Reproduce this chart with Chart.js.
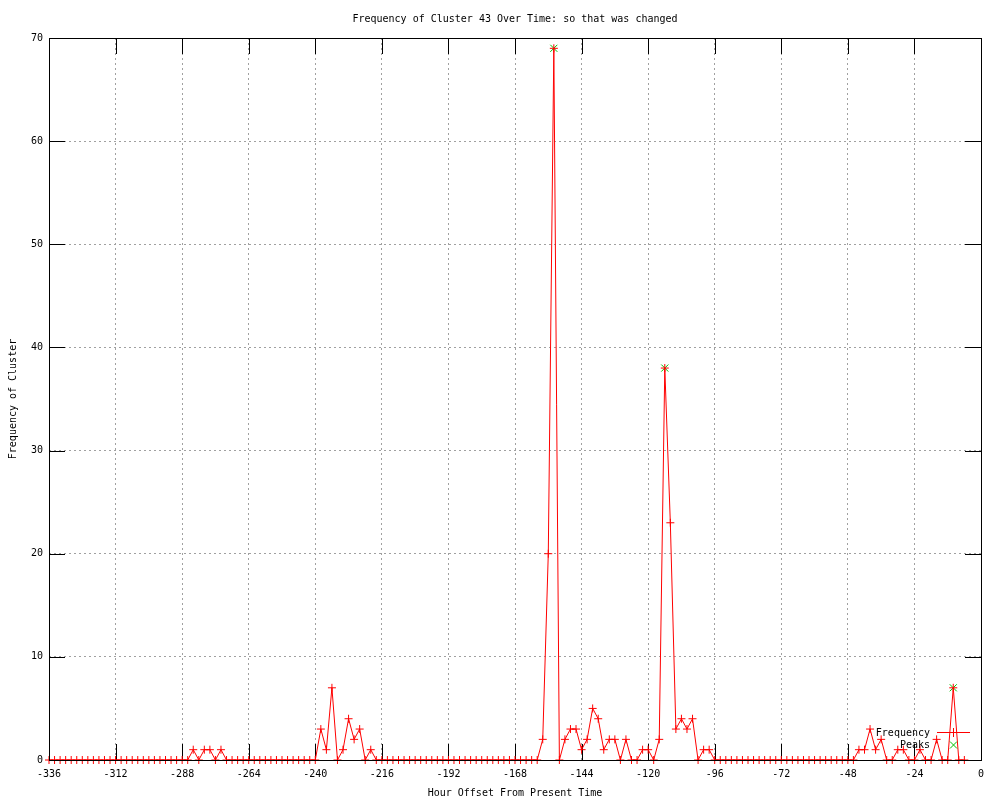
<!DOCTYPE html>
<html>
<head>
<meta charset="utf-8">
<title>Frequency of Cluster 43 Over Time</title>
<script src="https://cdn.jsdelivr.net/npm/chart.js@4/dist/chart.umd.min.js"></script>
<style>
  html, body { margin: 0; padding: 0; background: #fff; }
  #wrap { width: 1000px; height: 800px; }
</style>
</head>
<body>
<div id="wrap"><canvas id="chart" width="1000" height="800"></canvas></div>
<script>
const chartTitle = 'Frequency of Cluster 43 Over Time: so that was changed';
const xTitle = 'Hour Offset From Present Time';
const yTitle = 'Frequency of Cluster';

// hour offsets of each sample (every 2 hours)
const hours = [
  -336, -334, -332, -330, -328, -326, -324, -322, -320, -318, -316, -314, -312, -310, -308, -306,
  -304, -302, -300, -298, -296, -294, -292, -290, -288, -286, -284, -282, -280, -278, -276, -274,
  -272, -270, -268, -266, -264, -262, -260, -258, -256, -254, -252, -250, -248, -246, -244, -242,
  -240, -238, -236, -234, -232, -230, -228, -226, -224, -222, -220, -218, -216, -214, -212, -210,
  -208, -206, -204, -202, -200, -198, -196, -194, -192, -190, -188, -186, -184, -182, -180, -178,
  -176, -174, -172, -170, -168, -166, -164, -162, -160, -158, -156, -154, -152, -150, -148, -146,
  -144, -142, -140, -138, -136, -134, -132, -130, -128, -126, -124, -122, -120, -118, -116, -114,
  -112, -110, -108, -106, -104, -102, -100, -98, -96, -94, -92, -90, -88, -86, -84, -82,
  -80, -78, -76, -74, -72, -70, -68, -66, -64, -62, -60, -58, -56, -54, -52, -50,
  -48, -46, -44, -42, -40, -38, -36, -34, -32, -30, -28, -26, -24, -22, -20, -18,
  -16, -14, -12, -10, -8, -6
];

const frequency = [
  0, 0, 0, 0, 0, 0, 0, 0, 0, 0, 0, 0, 0, 0, 0, 0,
  0, 0, 0, 0, 0, 0, 0, 0, 0, 0, 1, 0, 1, 1, 0, 1,
  0, 0, 0, 0, 0, 0, 0, 0, 0, 0, 0, 0, 0, 0, 0, 0,
  0, 3, 1, 7, 0, 1, 4, 2, 3, 0, 1, 0, 0, 0, 0, 0,
  0, 0, 0, 0, 0, 0, 0, 0, 0, 0, 0, 0, 0, 0, 0, 0,
  0, 0, 0, 0, 0, 0, 0, 0, 0, 2, 20, 69, 0, 2, 3, 3,
  1, 2, 5, 4, 1, 2, 2, 0, 2, 0, 0, 1, 1, 0, 2, 38,
  23, 3, 4, 3, 4, 0, 1, 1, 0, 0, 0, 0, 0, 0, 0, 0,
  0, 0, 0, 0, 0, 0, 0, 0, 0, 0, 0, 0, 0, 0, 0, 0,
  0, 0, 1, 1, 3, 1, 2, 0, 0, 1, 1, 0, 0, 1, 0, 0,
  2, 0, 0, 7, 0, 0
];

const peakHours = [-154, -114, -10];
const peakValues = [69, 38, 7];

const FONT = '10px "DejaVu Sans Mono", "Liberation Mono", monospace';
const RED = '#ff0000';
const GREEN = '#00c000';

// gnuplot-like frame: inward ticks on all four sides, border on top of the data
const framePlugin = {
  id: 'frame',
  beforeDatasetsDraw(chart) {
    const { ctx, chartArea: a, scales } = chart;
    const len = 16;
    ctx.save();
    ctx.strokeStyle = '#000';
    ctx.lineWidth = 1;
    ctx.beginPath();
    scales.x.ticks.forEach(t => {
      const px = Math.round(scales.x.getPixelForValue(t.value)) + 0.5;
      ctx.moveTo(px, a.bottom); ctx.lineTo(px, a.bottom - len);
      ctx.moveTo(px, a.top); ctx.lineTo(px, a.top + len);
    });
    scales.y.ticks.forEach(t => {
      const py = Math.round(scales.y.getPixelForValue(t.value)) + 0.5;
      ctx.moveTo(a.left, py); ctx.lineTo(a.left + len, py);
      ctx.moveTo(a.right, py); ctx.lineTo(a.right - len, py);
    });
    ctx.stroke();
    ctx.restore();
  },
  afterDatasetsDraw(chart) {
    const { ctx, chartArea: a } = chart;
    ctx.save();
    ctx.strokeStyle = '#000';
    ctx.lineWidth = 1;
    ctx.strokeRect(Math.round(a.left) + 0.5, Math.round(a.top) + 0.5,
      Math.round(a.right - a.left), Math.round(a.bottom - a.top));
    ctx.restore();
  },
  afterDraw(chart) {
    const { ctx, chartArea: a } = chart;
    const cx = (a.left + a.right) / 2;
    ctx.save();
    ctx.font = FONT;
    ctx.fillStyle = '#000';
    ctx.textBaseline = 'middle';
    ctx.textAlign = 'center';
    ctx.fillText(chartTitle, cx, 19);
    ctx.fillText(xTitle, cx, 793);
    ctx.save();
    ctx.translate(13, (a.top + a.bottom) / 2);
    ctx.rotate(-Math.PI / 2);
    ctx.fillText(yTitle, 0, 0);
    ctx.restore();

    // key, inside bottom right
    const keyTextX = a.right - 51;
    const row1 = a.bottom - 28;
    const row2 = a.bottom - 15;
    ctx.textAlign = 'right';
    ctx.fillText('Frequency', keyTextX, row1 + 1);
    ctx.fillText('Peaks', keyTextX, row2);
    const sx = Math.round(a.right - 28) + 0.5;
    ctx.lineWidth = 1;
    ctx.strokeStyle = RED;
    ctx.beginPath();
    ctx.moveTo(a.right - 44, row1 + 0.5); ctx.lineTo(a.right - 11, row1 + 0.5);
    ctx.moveTo(sx, row1 - 4); ctx.lineTo(sx, row1 + 5);
    ctx.stroke();
    ctx.strokeStyle = GREEN;
    ctx.beginPath();
    ctx.moveTo(sx - 3.5, row2 - 3.5); ctx.lineTo(sx + 3.5, row2 + 3.5);
    ctx.moveTo(sx - 3.5, row2 + 3.5); ctx.lineTo(sx + 3.5, row2 - 3.5);
    ctx.stroke();
    ctx.restore();
  }
};

function buildChart() {
  const ctx = document.getElementById('chart').getContext('2d');
  new Chart(ctx, {
    type: 'line',
    data: {
      datasets: [
        {
          label: 'Frequency',
          data: hours.map((h, i) => ({ x: h, y: frequency[i] })),
          borderColor: RED,
          backgroundColor: RED,
          borderWidth: 1,
          pointStyle: 'cross',
          pointRadius: 4,
          pointBorderWidth: 1,
          pointBorderColor: RED,
          tension: 0,
          fill: false
        },
        {
          label: 'Peaks',
          data: peakHours.map((h, i) => ({ x: h, y: peakValues[i] })),
          showLine: false,
          borderColor: GREEN,
          backgroundColor: GREEN,
          pointStyle: 'crossRot',
          pointRadius: 5,
          pointBorderWidth: 1,
          pointBorderColor: GREEN
        }
      ]
    },
    options: {
      responsive: false,
      animation: false,
      clip: false,
      layout: { padding: { top: 38, right: 19, left: 0, bottom: 0 } },
      plugins: {
        legend: { display: false },
        title: { display: false },
        tooltip: { enabled: false }
      },
      scales: {
        x: {
          type: 'linear',
          min: -336,
          max: 0,
          afterFit(scale) { scale.height = 40; },
          ticks: {
            stepSize: 24,
            color: '#000',
            font: { family: '"DejaVu Sans Mono", "Liberation Mono", monospace', size: 10 },
            padding: 8,
            maxRotation: 0,
            autoSkip: false
          },
          grid: { color: '#a0a0a0', lineWidth: 1, drawTicks: false },
          border: { display: false, dash: [2, 3] }
        },
        y: {
          min: 0,
          max: 70,
          afterFit(scale) { scale.width = 49; },
          ticks: {
            stepSize: 10,
            color: '#000',
            font: { family: '"DejaVu Sans Mono", "Liberation Mono", monospace', size: 10 },
            padding: 6
          },
          grid: { color: '#a0a0a0', lineWidth: 1, drawTicks: false },
          border: { display: false, dash: [2, 3] }
        }
      }
    },
    plugins: [framePlugin]
  });
}

document.addEventListener('DOMContentLoaded', buildChart);
</script>
</body>
</html>
